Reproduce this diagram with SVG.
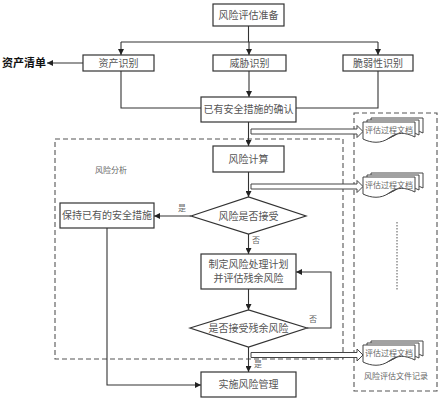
<svg xmlns="http://www.w3.org/2000/svg" xmlns:xlink="http://www.w3.org/1999/xlink" width="443" height="400" viewBox="0 0 443 400">
<style>
.box{fill:#fff;stroke:#333;stroke-width:1.2}
.t{font-family:"Noto Sans CJK SC","Noto Sans",sans-serif;font-size:10px;fill:#555;text-anchor:middle}
.s{font-family:"Noto Sans CJK SC","Noto Sans",sans-serif;font-size:8px;fill:#666;text-anchor:middle}
.ln{fill:none;stroke:#333;stroke-width:1.1}
.dash{fill:none;stroke:#555;stroke-width:1.1;stroke-dasharray:5,3}
.ha{fill:#fff;stroke:#444;stroke-width:1}
.pg{fill:#fff;stroke:#444;stroke-width:1}
</style>
<defs>
<marker id="ah" viewBox="0 0 10 10" refX="10" refY="5" markerWidth="6" markerHeight="6" orient="auto" markerUnits="userSpaceOnUse">
<path d="M0,0 L10,5 L0,10 Z" fill="#222"/>
</marker>
<g id="doc">
<path class="pg" transform="translate(8,-4)" d="M0,0 H52 V15 C42,10 34,10 26,16 C18,22 8,21 0,17 Z"/>
<path class="pg" transform="translate(4,-2)" d="M0,0 H52 V15 C42,10 34,10 26,16 C18,22 8,21 0,17 Z"/>
<path class="pg" d="M0,0 H52 V15 C42,10 34,10 26,16 C18,22 8,21 0,17 Z"/>
<text class="s" x="26" y="11">评估过程文档</text>
</g>
</defs>
<rect width="443" height="400" fill="#fff"/>

<g id="regions">
<rect class="dash" x="55" y="139" width="288" height="220"/>
<text class="s" x="111" y="173">风险分析</text>
<rect class="dash" x="354" y="113" width="83" height="278"/>
<text class="s" x="396" y="379">风险评估文件记录</text>
<line x1="397" y1="222" x2="397" y2="290" stroke="#555" stroke-width="1" stroke-dasharray="1.5,1.5"/>
</g>

<g id="connectors">
<path class="ln" d="M248.5,26 V42"/>
<path class="ln" d="M121,42 H378"/>
<path class="ln" d="M121,42 V55" marker-end="url(#ah)"/>
<path class="ln" d="M249,42 V55" marker-end="url(#ah)"/>
<path class="ln" d="M378,42 V55" marker-end="url(#ah)"/>
<path class="ln" d="M83,63 H47" marker-end="url(#ah)"/>
<path class="ln" d="M249,71 V97" marker-end="url(#ah)"/>
<path class="ln" d="M121,71 V108 H201"/>
<path class="ln" d="M378,71 V108 H296"/>
<path class="ln" d="M248.5,122 V146" marker-end="url(#ah)"/>
<path class="ln" d="M248.5,172 V197" marker-end="url(#ah)"/>
<path class="ln" d="M191,216 H154" marker-end="url(#ah)"/>
<text class="s" x="182" y="211">是</text>
<path class="ln" d="M248.5,234 V254" marker-end="url(#ah)"/>
<text class="s" x="256" y="243">否</text>
<path class="ln" d="M248.5,289 V310" marker-end="url(#ah)"/>
<path class="ln" d="M307,328 H331 V272 H296" marker-end="url(#ah)"/>
<text class="s" x="313" y="322">否</text>
<path class="ln" d="M248.5,347 V372" marker-end="url(#ah)"/>
<text class="s" x="258" y="367">是</text>
<path class="ln" d="M107,228 V385 H201" marker-end="url(#ah)"/>
<path class="ha" d="M251,129 H357 V125.5 L363,131.5 L357,137.5 V134 H251 Z"/>
<path class="ha" d="M251,184 H357 V180.5 L363,186.5 L357,192.5 V189 H251 Z"/>
<path class="ha" d="M251,352.5 H357 V349 L363,355 L357,361 V357.5 H251 Z"/>
</g>

<g id="n_prep"><rect class="box" x="213" y="4" width="71" height="22"/><text class="t" x="248.5" y="19">风险评估准备</text></g>
<g id="n_asset"><rect class="box" x="83" y="55" width="71" height="16"/><text class="t" x="118.5" y="67">资产识别</text></g>
<g id="n_threat"><rect class="box" x="213" y="55" width="73" height="16"/><text class="t" x="249.5" y="67">威胁识别</text></g>
<g id="n_vuln"><rect class="box" x="343" y="55" width="70" height="16"/><text class="t" x="378" y="67">脆弱性识别</text></g>
<g id="n_list"><text x="2" y="67" font-family="'Noto Sans CJK SC',sans-serif" font-size="11" font-weight="bold" fill="#111">资产清单</text></g>
<g id="n_confirm"><rect class="box" x="201" y="97" width="95" height="25"/><text class="t" x="248.5" y="113">已有安全措施的确认</text></g>
<g id="n_calc"><rect class="box" x="213" y="146" width="71" height="26"/><text class="t" x="248.5" y="163">风险计算</text></g>
<g id="n_accept"><polygon class="box" points="191,216 248.5,197 306,216 248.5,234"/><text class="t" x="248.5" y="219.5">风险是否接受</text></g>
<g id="n_keep"><rect class="box" x="60" y="203" width="94" height="25"/><text class="t" x="107" y="219">保持已有的安全措施</text></g>
<g id="n_plan"><rect class="box" x="201" y="254" width="95" height="35"/><text class="t" x="248.5" y="268">制定风险处理计划</text><text class="t" x="248.5" y="282">并评估残余风险</text></g>
<g id="n_residual"><polygon class="box" points="190,328 248.5,310 307,328 248.5,347"/><text class="t" x="248.5" y="331.5">是否接受残余风险</text></g>
<g id="n_impl"><rect class="box" x="201" y="372" width="95" height="25"/><text class="t" x="248.5" y="388">实施风险管理</text></g>
<g id="n_doc1"><use xlink:href="#doc" x="363" y="122"/></g>
<g id="n_doc2"><use xlink:href="#doc" x="363" y="177"/></g>
<g id="n_doc3"><use xlink:href="#doc" x="363" y="345"/></g>
</svg>
